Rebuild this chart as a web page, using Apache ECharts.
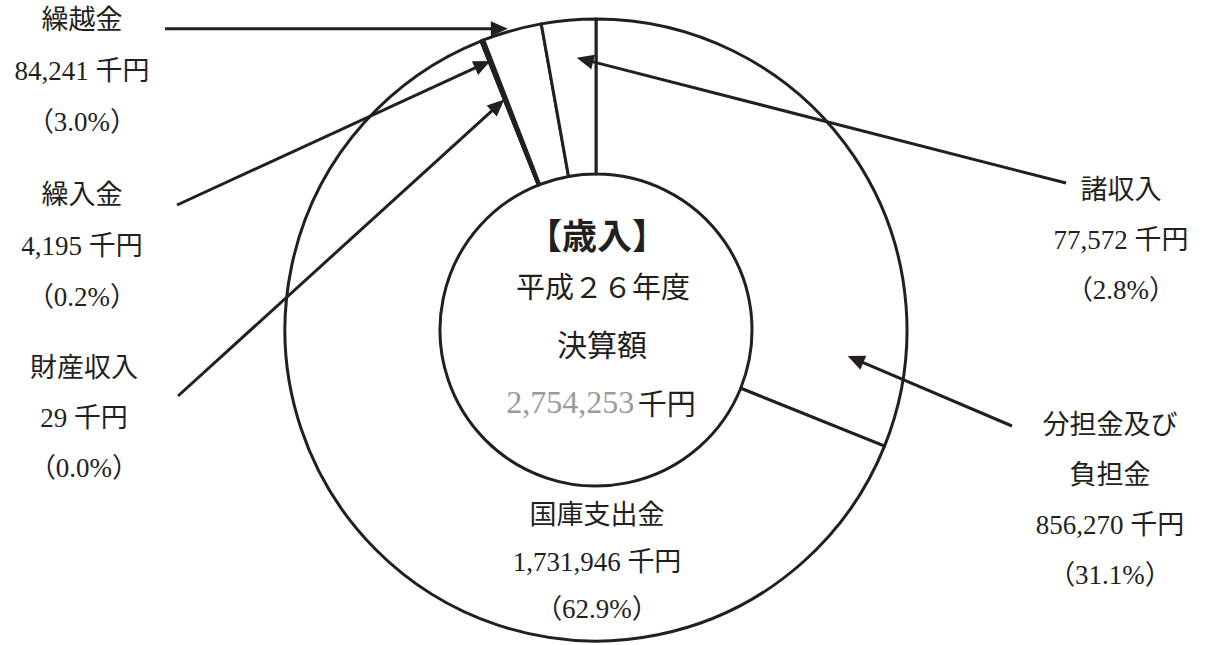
<!DOCTYPE html>
<html><head><meta charset="utf-8">
<script src="https://cdn.jsdelivr.net/npm/echarts@6/dist/echarts.min.js"></script>
<style>html,body{margin:0;padding:0;background:#fff}#c{width:1213px;height:645px}</style>
</head><body><div id="c"></div>
<script>
// ---- data ----
const categories = ['分担金及び負担金', '国庫支出金', '財産収入', '繰入金', '繰越金', '諸収入'];
const values = [856270, 1731946, 29, 4195, 84241, 77572];
const percentLabels = ['31.1', '62.9', '0.0', '0.2', '3.0', '2.8'];
const titleText = '【歳入】';
const yearText = '平成２６年度';
const subText = '決算額';
const unitText = '千円';

// ---- layout / style ----
const CX = 596, CY = 330, R_IN = 156, R_OUT = 311;
const INK = '#231f20';
const SERIF = '"Liberation Serif","Noto Sans CJK JP",serif';
const labelLayoutCfg = [
  { x: 1110, y: 500, lh: 50, wrap: '分担金及び\n負担金' },
  { x: 597, y: 562, lh: 47 },
  { x: 84, y: 418, lh: 50 },
  { x: 82, y: 246, lh: 51 },
  { x: 82, y: 71, lh: 51 },
  { x: 1121, y: 240, lh: 50 }
];
const arrowCfg = [
  { i: 0, r: 253, f: 0.857, tail: [1012, 426] },
  { i: 2, r: 248, f: 0.5, tail: [178, 396] },
  { i: 3, r: 289, f: 0.5, tail: [177, 205] },
  { i: 4, r: 314, f: 0.44, tail: [165, 28] },
  { i: 5, r: 273, f: 0.6, tail: [1066, 183] }
];

const total = values.reduce((a, b) => a + b, 0);
const fmt = v => v.toLocaleString('en-US');

// slice angles (clockwise from 12 o'clock)
const starts = [];
let acc = 0;
values.forEach(v => { starts.push(acc / total * 360); acc += v; });
const spans = values.map(v => v / total * 360);

const graphics = [];
const ctr = { align: 'center', verticalAlign: 'middle', textAlign: 'center', textVerticalAlign: 'middle' };
// center texts
graphics.push({ type: 'text', z: 100, x: 597, y: 233, style: Object.assign({ text: titleText, font: 'bold 35px "Noto Sans CJK JP"', fill: INK }, ctr) });
graphics.push({ type: 'text', z: 100, x: 603, y: 285, style: Object.assign({ text: yearText, font: '29px "Noto Sans CJK JP"', fill: INK }, ctr) });
graphics.push({ type: 'text', z: 100, x: 602, y: 343, style: Object.assign({ text: subText, font: '30px "Noto Sans CJK JP"', fill: INK }, ctr) });
graphics.push({ type: 'text', z: 100, x: 601, y: 402, style: Object.assign({
  text: '{g|' + fmt(total) + '} {b|' + unitText + '}',
  rich: { g: { fontFamily: SERIF, fontSize: 32, fill: '#9a9a9a', color: '#9a9a9a' }, b: { fontFamily: '"Noto Sans CJK JP"', fontSize: 29, fill: INK, color: INK } }
}, ctr) });

// arrows
arrowCfg.forEach(a => {
  const th = (starts[a.i] + spans[a.i] * a.f) * Math.PI / 180;
  const tx = CX + a.r * Math.sin(th), ty = CY - a.r * Math.cos(th);
  const [sx, sy0] = a.tail;
  const sy = a.i === 4 ? ty : sy0;
  const dx = tx - sx, dy = ty - sy, L = Math.hypot(dx, dy);
  const ux = dx / L, uy = dy / L;
  const hl = 17, hw = 7.5;
  const bx = tx - ux * hl, by = ty - uy * hl;
  graphics.push({ type: 'line', z: 100, shape: { x1: sx, y1: sy, x2: bx + ux * 2, y2: by + uy * 2 }, style: { stroke: INK, lineWidth: 3 } });
  graphics.push({ type: 'polygon', z: 101, shape: { points: [[tx, ty], [bx - uy * hw, by + ux * hw], [bx + uy * hw, by - ux * hw]] }, style: { fill: INK } });
});

const chart = echarts.init(document.getElementById('c'), null, { renderer: 'svg' });
chart.setOption({
  animation: false,
  backgroundColor: '#fff',
  series: [{
    type: 'pie',
    z: 2,
    center: [CX, CY],
    radius: [R_IN, R_OUT],
    startAngle: 90,
    clockwise: true,
    avoidLabelOverlap: false,
    silent: true,
    itemStyle: { color: '#fff', borderColor: INK, borderWidth: 3 },
    label: {
      show: true,
      position: 'outside',
      fontFamily: SERIF,
      fontSize: 27,
      color: INK,
      align: 'center',
      formatter: p => {
        const c = labelLayoutCfg[p.dataIndex];
        const nm = c.wrap || p.name;
        return nm + '\n' + fmt(p.value) + ' ' + unitText + '\n（' + percentLabels[p.dataIndex] + '%）';
      }
    },
    labelLine: { show: false },
    labelLayout: p => {
      const c = labelLayoutCfg[p.dataIndex];
      return { x: c.x, y: c.y, align: 'center', verticalAlign: 'middle' };
    },
    data: categories.map((n, i) => ({
      name: n, value: values[i],
      label: { lineHeight: labelLayoutCfg[i].lh }
    }))
  }],
  graphic: { elements: graphics }
});
</script>
</body></html>
